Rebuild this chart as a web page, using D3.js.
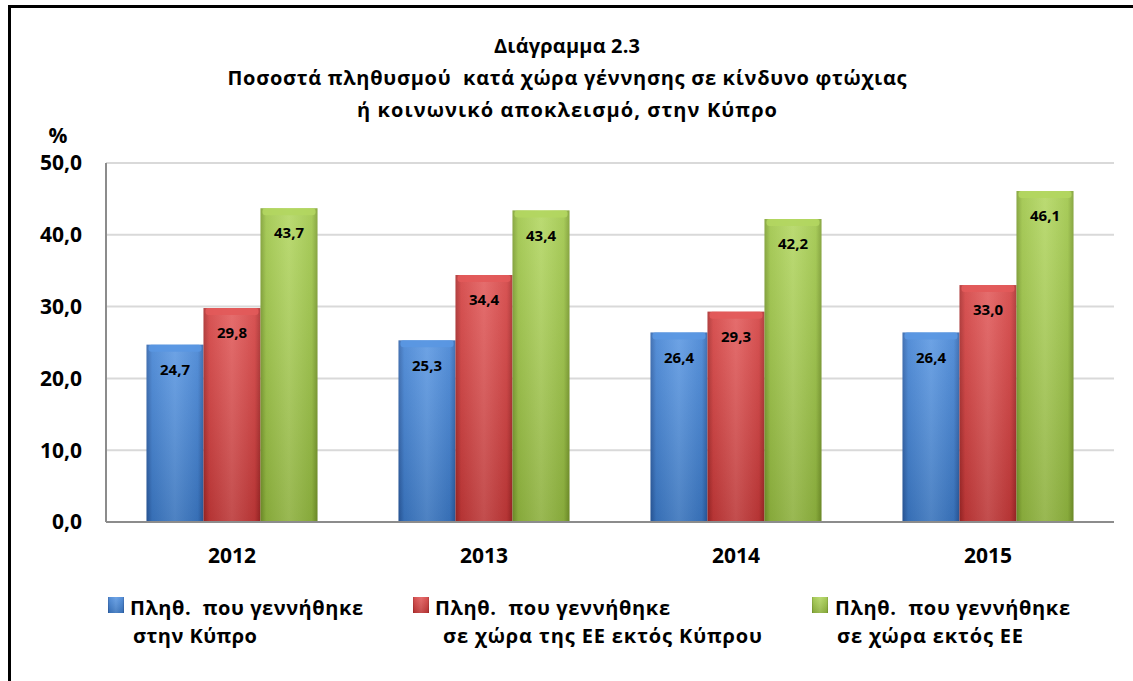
<!DOCTYPE html>
<html>
<head>
<meta charset="utf-8">
<script src="https://cdn.jsdelivr.net/npm/d3@7"></script>
<style>
  body { margin: 0; background: #fff; }
  text { font-family: "Open Sans", "DejaVu Sans", sans-serif; font-weight: bold; fill: #000; white-space: pre; }
</style>
</head>
<body>
<div id="main"></div>
<script>
var years = ["2012", "2013", "2014", "2015"]
var bornCyprus = [24.7, 25.3, 26.4, 26.4]
var bornEU = [29.8, 34.4, 29.3, 33.0]
var bornNonEU = [43.7, 43.4, 42.2, 46.1]
var yTicks = [0, 10, 20, 30, 40, 50]
var titleLines = ["Διάγραμμα 2.3", "Ποσοστά πληθυσμού  κατά χώρα γέννησης σε κίνδυνο φτώχιας", "ή κοινωνικό αποκλεισμό, στην Κύπρο"]
var legendNames = [
  ["Πληθ.  που γεννήθηκε", "στην Κύπρο"],
  ["Πληθ.  που γεννήθηκε", "σε χώρα της ΕΕ εκτός Κύπρου"],
  ["Πληθ.  που γεννήθηκε", "σε χώρα εκτός ΕΕ"]
]

var series = [bornCyprus, bornEU, bornNonEU]
var colors = [
  { dark: "#2c5fa8", mid: "#3f80d2", light: "#5a97e2" },
  { dark: "#a82828", mid: "#d23c3c", light: "#e25a5a" },
  { dark: "#7a9c2c", mid: "#9cc444", light: "#b2d660" }
]

var W = 1133, H = 681
var svg = d3.select("#main").append("svg").attr("width", W).attr("height", H)

// frame
svg.append("rect").attr("x", 9.5).attr("y", 6.5).attr("width", W + 10).attr("height", H + 10)
  .attr("fill", "none").attr("stroke", "#000").attr("stroke-width", 3)

var defs = svg.append("defs")
colors.forEach((c, i) => {
  var g = defs.append("linearGradient").attr("id", "grad" + i).attr("x1", 0).attr("x2", 1).attr("y1", 0).attr("y2", 0)
  g.append("stop").attr("offset", "0%").attr("stop-color", c.dark)
  g.append("stop").attr("offset", "10%").attr("stop-color", c.mid)
  g.append("stop").attr("offset", "50%").attr("stop-color", c.light)
  g.append("stop").attr("offset", "90%").attr("stop-color", c.mid)
  g.append("stop").attr("offset", "100%").attr("stop-color", c.dark)
})
// darker towards the bottom
var shade = defs.append("linearGradient").attr("id", "shade").attr("x1", 0).attr("x2", 0).attr("y1", 0).attr("y2", 1)
shade.append("stop").attr("offset", "0%").attr("stop-color", "#fff").attr("stop-opacity", 0.12)
shade.append("stop").attr("offset", "100%").attr("stop-color", "#000").attr("stop-opacity", 0.14)

var plotL = 106, plotR = 1114, plotT = 163, plotB = 522

var x = d3.scaleBand().domain(years).range([plotL, plotR]).paddingInner(0).paddingOuter(0)
var y = d3.scaleLinear().domain([0, 50]).range([plotB, plotT])
var barW = 57
var groupOffset = (x.bandwidth() - barW * 3) / 2

// gridlines
svg.append("g").selectAll("line").data(yTicks.slice(1)).enter().append("line")
  .attr("x1", plotL).attr("x2", plotR)
  .attr("y1", d => y(d)).attr("y2", d => y(d))
  .attr("stroke", "#d9d9d9").attr("stroke-width", 2)

svg.append("line").attr("x1", plotL).attr("x2", plotL).attr("y1", plotT).attr("y2", plotB)
  .attr("stroke", "#8c8c8c").attr("stroke-width", 2)

// y tick labels
svg.append("g").selectAll("text").data(yTicks).enter().append("text")
  .attr("x", 82).attr("y", d => y(d)).attr("dy", "0.35em")
  .attr("text-anchor", "end").style("font-size", "21px")
  .text(d => d3.format(".1f")(d).replace(".", ","))

svg.append("text").attr("x", 58).attr("y", 136).attr("dy", "0.35em")
  .attr("text-anchor", "middle").style("font-size", "21px").text("%")

// bars
series.forEach((vals, s) => {
  var g = svg.append("g")
  var bx = (d, i) => x(years[i]) + groupOffset + s * barW
  g.selectAll("rect.bar").data(vals).enter().append("rect").attr("class", "bar")
    .attr("x", bx).attr("width", barW)
    .attr("y", d => y(d)).attr("height", d => y(0) - y(d))
    .attr("fill", "url(#grad" + s + ")")
  g.selectAll("rect.shade").data(vals).enter().append("rect").attr("class", "shade")
    .attr("x", bx).attr("width", barW)
    .attr("y", d => y(d)).attr("height", d => y(0) - y(d))
    .attr("fill", "url(#shade)")
  g.selectAll("rect.bev").data(vals).enter().append("rect").attr("class", "bev")
    .attr("x", (d, i) => bx(d, i) + 2).attr("width", barW - 4)
    .attr("y", d => y(d)).attr("height", 7).attr("rx", 3)
    .attr("fill", colors[s].light).attr("opacity", 0.9)
  g.selectAll("text").data(vals).enter().append("text")
    .attr("x", (d, i) => bx(d, i) + barW / 2).attr("y", d => y(d) + 25).attr("dy", "0.35em")
    .attr("text-anchor", "middle").style("font-size", "15px")
    .text(d => d3.format(".1f")(d).replace(".", ","))
})

svg.append("line").attr("x1", plotL).attr("x2", plotR).attr("y1", plotB).attr("y2", plotB)
  .attr("stroke", "#8c8c8c").attr("stroke-width", 2)

// x labels
svg.append("g").selectAll("text").data(years).enter().append("text")
  .attr("x", d => x(d) + x.bandwidth() / 2).attr("y", 556).attr("dy", "0.35em")
  .attr("text-anchor", "middle").style("font-size", "21px").text(d => d)

// title
var titleW = [146, 679, 420]
svg.append("g").selectAll("text").data(titleLines).enter().append("text")
  .attr("x", 567).attr("y", (d, i) => 46 + i * 32).attr("dy", "0.35em")
  .attr("text-anchor", "middle").style("font-size", "20px")
  .attr("textLength", (d, i) => titleW[i]).attr("lengthAdjust", "spacing")
  .text(d => d)

// legend
var legX = [108, 413, 812]
var legTextX = [130, 435, 835]
var leg2X = [133, 443, 837]
var legW1 = [233, 235, 235]
var legW2 = [124, 319, 186]
legendNames.forEach((lines, i) => {
  var g = svg.append("g")
  g.append("rect").attr("x", legX[i]).attr("y", 597).attr("width", 16).attr("height", 16)
    .attr("fill", "url(#grad" + i + ")")
  g.append("rect").attr("x", legX[i]).attr("y", 597).attr("width", 16).attr("height", 16)
    .attr("fill", "url(#shade)")
  g.append("text").attr("x", legTextX[i]).attr("y", 615).style("font-size", "20px")
    .attr("textLength", legW1[i]).attr("lengthAdjust", "spacing").text(lines[0])
  g.append("text").attr("x", leg2X[i]).attr("y", 643).style("font-size", "20px")
    .attr("textLength", legW2[i]).attr("lengthAdjust", "spacing").text(lines[1])
})
</script>
</body>
</html>
